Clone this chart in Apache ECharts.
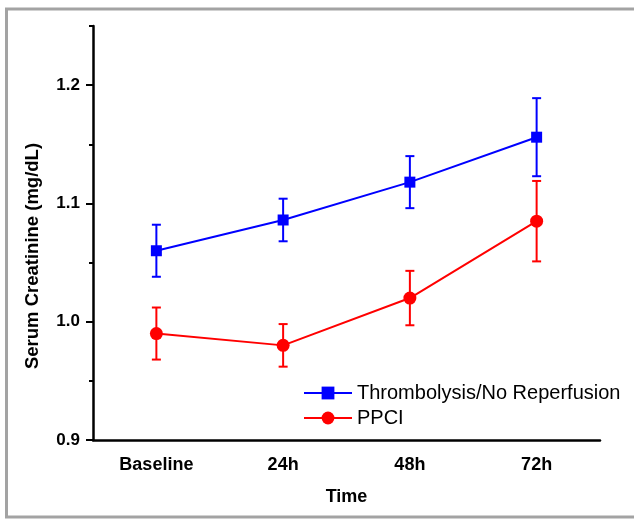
<!DOCTYPE html>
<html>
<head>
<meta charset="utf-8">
<script src="https://cdn.jsdelivr.net/npm/echarts@6/dist/echarts.min.js"></script>
<style>
  html, body { margin: 0; padding: 0; background: #fff; }
  #chart { width: 634px; height: 521px; }
</style>
</head>
<body>
<div id="chart"></div>
<script>
// data
const categories = ['Baseline', '24h', '48h', '72h']
const thrombName = 'Thrombolysis/No Reperfusion'
const thrombMean = [1.06, 1.086, 1.118, 1.156]
const thrombErr = [0.022, 0.018, 0.022, 0.033]
const ppciName = 'PPCI'
const ppciMean = [0.99, 0.98, 1.02, 1.085]
const ppciErr = [0.022, 0.018, 0.023, 0.034]
const yMajorTicks = [0.9, 1.0, 1.1, 1.2]
const yMinorTicks = [0.95, 1.05, 1.15, 1.25]

const FONT = '"Liberation Sans", Arial, sans-serif'
const BLUE = '#0000ff'
const RED = '#ff0000'

const errorData = (mean, err) => mean.map((m, i) => [i, m - err[i], m + err[i]])

const errorBars = (name, color, mean, err) => ({
  name: name,
  type: 'custom',
  xAxisIndex: 0,
  yAxisIndex: 0,
  data: errorData(mean, err),
  z: 3,
  renderItem: (params, api) => {
    const lo = api.coord([api.value(0), api.value(1)])
    const hi = api.coord([api.value(0), api.value(2)])
    const w = 4.5
    const style = { stroke: color, lineWidth: 2 }
    return {
      type: 'group',
      children: [
        { type: 'line', shape: { x1: hi[0], y1: hi[1], x2: lo[0], y2: lo[1] }, style },
        { type: 'line', shape: { x1: hi[0] - w, y1: hi[1], x2: hi[0] + w, y2: hi[1] }, style },
        { type: 'line', shape: { x1: lo[0] - w, y1: lo[1], x2: lo[0] + w, y2: lo[1] }, style }
      ]
    }
  }
})

const chart = echarts.init(document.getElementById('chart'))

chart.setOption({
  animation: false,
  textStyle: { fontFamily: FONT },
  graphic: [
    {
      type: 'rect',
      shape: { x: 6.5, y: 9, width: 700, height: 508 },
      style: { fill: 'none', stroke: '#a3a3a3', lineWidth: 3 },
      silent: true
    },
    {
      type: 'text',
      x: 33,
      y: 256,
      rotation: Math.PI / 2,
      style: {
        text: 'Serum Creatinine (mg/dL)',
        font: 'bold 18.5px ' + FONT,
        fill: '#000',
        align: 'center',
        verticalAlign: 'middle'
      }
    }
  ],
  grid: { left: 93, right: 34, top: 26, bottom: 81, outerBoundsMode: 'none' },
  legend: {
    data: [thrombName, ppciName],
    orient: 'vertical',
    left: 298,
    top: 378,
    itemWidth: 48,
    itemHeight: 16,
    itemGap: 5,
    textStyle: { fontFamily: FONT, fontSize: 20, color: '#000' }
  },
  xAxis: [
    {
      type: 'category',
      data: categories,
      name: 'Time',
      nameLocation: 'middle',
      nameGap: 48,
      nameTextStyle: { fontFamily: FONT, fontSize: 18, fontWeight: 'bold', color: '#000' },
      axisLine: { lineStyle: { color: '#000', width: 2.5 } },
      axisTick: { alignWithLabel: true, length: 7, lineStyle: { color: '#000', width: 2 } },
      axisLabel: { margin: 16, fontFamily: FONT, fontSize: 18, fontWeight: 'bold', color: '#000' },
      splitLine: { show: false }
    },
    {
      type: 'category',
      data: categories,
      position: 'bottom',
      offset: 0,
      axisLine: { show: false },
      axisTick: { length: 4, lineStyle: { color: '#000', width: 2 } },
      axisLabel: { show: false },
      splitLine: { show: false }
    }
  ],
  yAxis: [
    {
      type: 'value',
      min: 0.9,
      max: 1.25,
      axisLine: { show: true, lineStyle: { color: '#000', width: 2.5 } },
      axisTick: { show: true, customValues: yMajorTicks, length: 7, lineStyle: { color: '#000', width: 2 } },
      axisLabel: {
        customValues: yMajorTicks,
        margin: 13,
        fontFamily: FONT,
        fontSize: 17,
        fontWeight: 'bold',
        color: '#000',
        formatter: v => v.toFixed(1)
      },
      splitLine: { show: false }
    },
    {
      type: 'value',
      min: 0.9,
      max: 1.25,
      position: 'left',
      offset: 0,
      axisLine: { show: false },
      axisTick: { show: true, customValues: yMinorTicks, length: 4, lineStyle: { color: '#000', width: 2 } },
      axisLabel: { show: false },
      splitLine: { show: false }
    }
  ],
  series: [
    {
      name: thrombName,
      type: 'line',
      data: thrombMean,
      symbol: 'rect',
      symbolSize: 11,
      z: 4,
      itemStyle: { color: BLUE },
      lineStyle: { color: BLUE, width: 2 }
    },
    {
      name: ppciName,
      type: 'line',
      data: ppciMean,
      symbol: 'circle',
      symbolSize: 13,
      z: 4,
      itemStyle: { color: RED },
      lineStyle: { color: RED, width: 2 }
    },
    errorBars(thrombName, BLUE, thrombMean, thrombErr),
    errorBars(ppciName, RED, ppciMean, ppciErr)
  ]
})
</script>
</body>
</html>
